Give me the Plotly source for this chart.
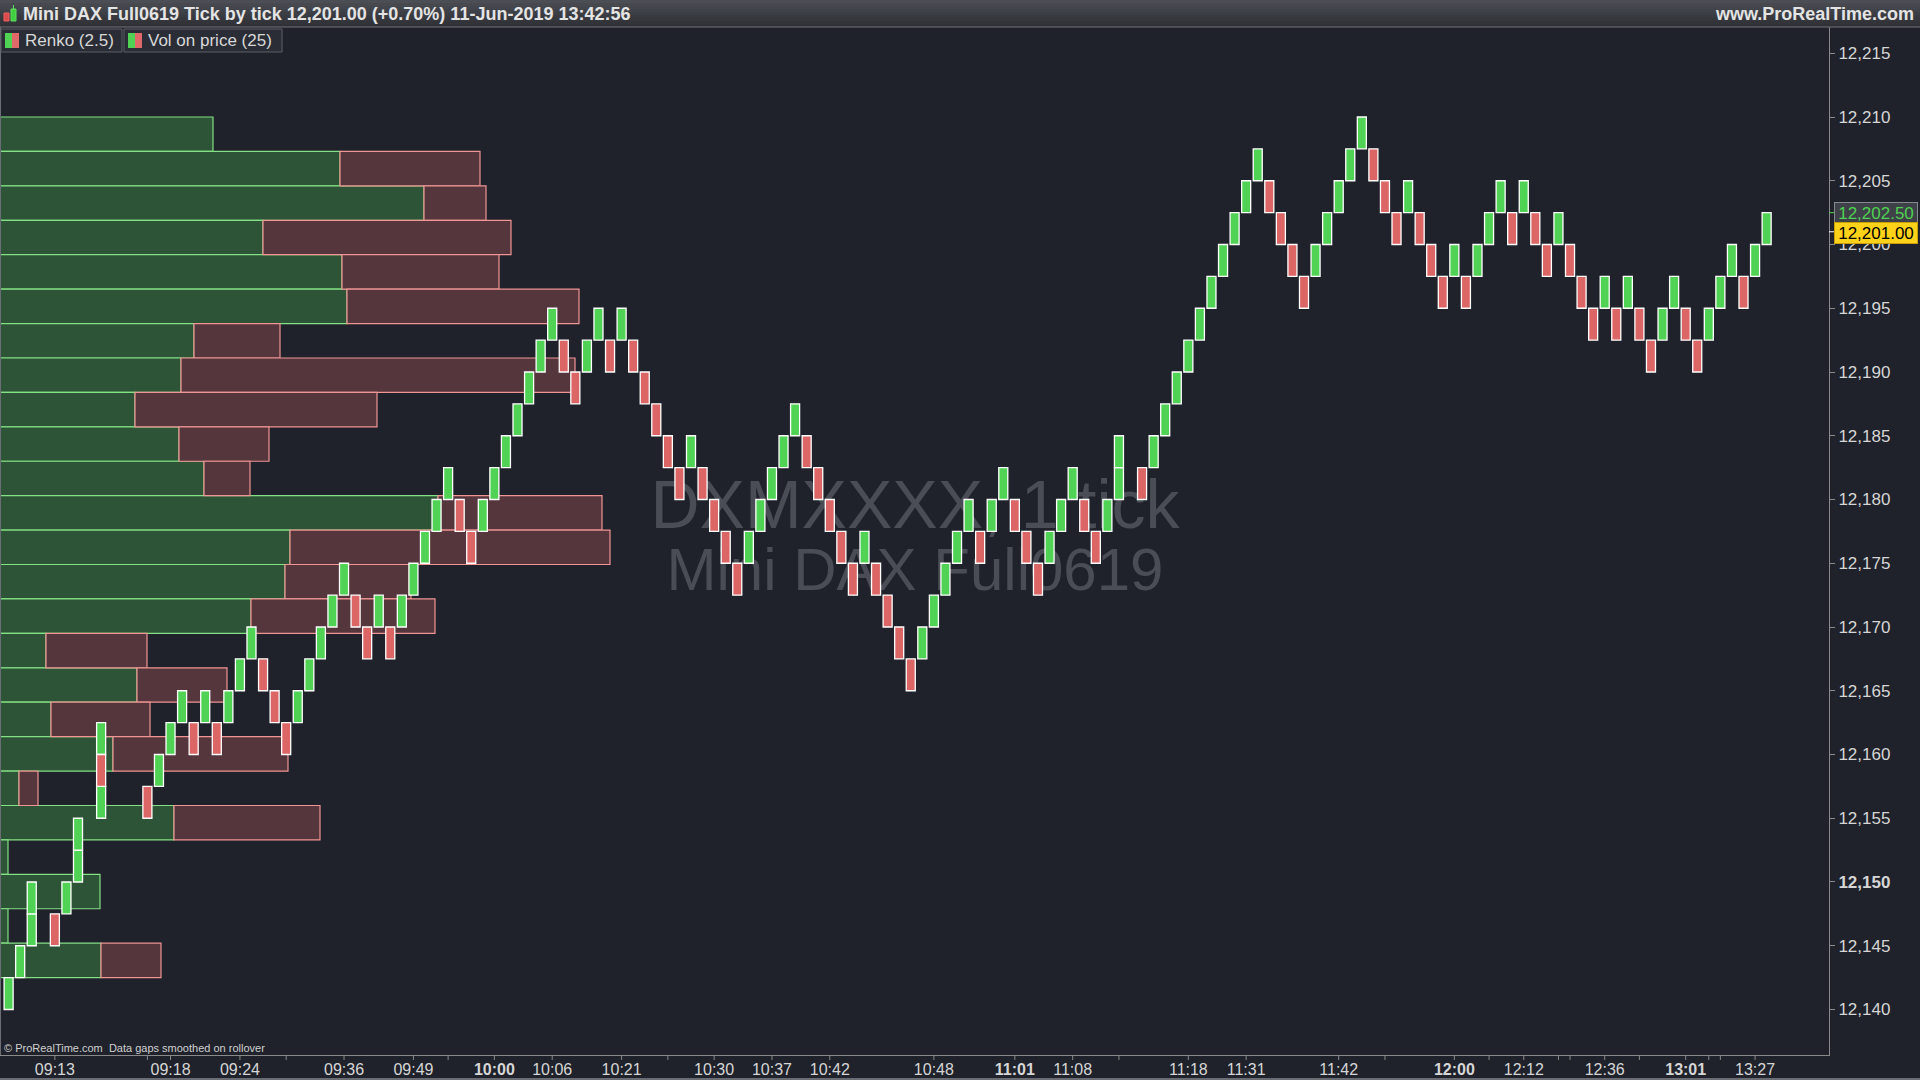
import plotly.graph_objects as go

# ---------------- DATA ----------------
# Renko bricks (box size 2.5): column index, brick low price, direction (1 = up/green, 0 = down/red)
renko_col = [0, 1, 2, 2, 4, 5, 6, 6, 8, 8, 8, 12, 13, 14, 15, 16, 17, 18, 19, 20,
             21, 22, 23, 24, 25, 26, 27, 28, 29, 30, 31, 32, 33, 34, 35, 36, 37, 38, 39, 40,
             41, 42, 43, 44, 45, 46, 47, 48, 49, 50, 51, 52, 53, 54, 55, 56, 57, 58, 59, 60,
             61, 62, 63, 64, 65, 66, 67, 68, 69, 70, 71, 72, 73, 74, 75, 76, 77, 78, 79, 80,
             81, 82, 83, 84, 85, 86, 87, 88, 89, 90, 91, 92, 93, 94, 95, 96, 96, 98, 99, 100,
             101, 102, 103, 104, 105, 106, 107, 108, 109, 110, 111, 112, 113, 114, 115, 116, 117, 118, 119, 120,
             121, 122, 123, 124, 125, 126, 127, 128, 129, 130, 131, 132, 133, 134, 135, 136, 137, 138, 139, 140,
             141, 142, 143, 144, 145, 146, 147, 148, 149, 150, 151, 152]
renko_low = [12140, 12142.5, 12145, 12147.5, 12145, 12147.5, 12150, 12152.5, 12155, 12157.5, 12160, 12155, 12157.5, 12160, 12162.5, 12160, 12162.5, 12160, 12162.5, 12165,
             12167.5, 12165, 12162.5, 12160, 12162.5, 12165, 12167.5, 12170, 12172.5, 12170, 12167.5, 12170, 12167.5, 12170, 12172.5, 12175, 12177.5, 12180, 12177.5, 12175,
             12177.5, 12180, 12182.5, 12185, 12187.5, 12190, 12192.5, 12190, 12187.5, 12190, 12192.5, 12190, 12192.5, 12190, 12187.5, 12185, 12182.5, 12180, 12182.5, 12180,
             12177.5, 12175, 12172.5, 12175, 12177.5, 12180, 12182.5, 12185, 12182.5, 12180, 12177.5, 12175, 12172.5, 12175, 12172.5, 12170, 12167.5, 12165, 12167.5, 12170,
             12172.5, 12175, 12177.5, 12175, 12177.5, 12180, 12177.5, 12175, 12172.5, 12175, 12177.5, 12180, 12177.5, 12175, 12177.5, 12180, 12182.5, 12180, 12182.5, 12185,
             12187.5, 12190, 12192.5, 12195, 12197.5, 12200, 12202.5, 12205, 12202.5, 12200, 12197.5, 12195, 12197.5, 12200, 12202.5, 12205, 12207.5, 12205, 12202.5, 12200,
             12202.5, 12200, 12197.5, 12195, 12197.5, 12195, 12197.5, 12200, 12202.5, 12200, 12202.5, 12200, 12197.5, 12200, 12197.5, 12195, 12192.5, 12195, 12192.5, 12195,
             12192.5, 12190, 12192.5, 12195, 12192.5, 12190, 12192.5, 12195, 12197.5, 12195, 12197.5, 12200]
renko_up = [1, 1, 1, 1, 0, 1, 1, 1, 1, 0, 1, 0, 1, 1, 1, 0, 1, 0, 1, 1,
            1, 0, 0, 0, 1, 1, 1, 1, 1, 0, 0, 1, 0, 1, 1, 1, 1, 1, 0, 0,
            1, 1, 1, 1, 1, 1, 1, 0, 0, 1, 1, 0, 1, 0, 0, 0, 0, 0, 1, 0,
            0, 0, 0, 1, 1, 1, 1, 1, 0, 0, 0, 0, 0, 1, 0, 0, 0, 0, 1, 1,
            1, 1, 1, 0, 1, 1, 0, 0, 0, 1, 1, 1, 0, 0, 1, 1, 1, 0, 1, 1,
            1, 1, 1, 1, 1, 1, 1, 1, 0, 0, 0, 0, 1, 1, 1, 1, 1, 0, 0, 0,
            1, 0, 0, 0, 1, 0, 1, 1, 1, 0, 1, 0, 0, 1, 0, 0, 0, 1, 0, 1,
            0, 0, 1, 1, 0, 0, 1, 1, 1, 0, 1, 1]
BRICK = 2.5

# Volume on price (25 levels, listed from top level to bottom level)
vol_top, vol_bottom, vol_levels = 12210.0, 12142.5, 25
vol_buy = [213, 340, 424, 263, 342, 347, 194, 181, 135, 179, 204, 438, 290, 285, 251,
           46, 137, 51, 113, 19, 174, 8, 100, 8, 101]
vol_sell = [0, 140, 62, 248, 157, 232, 86, 394, 242, 90, 46, 164, 320, 126, 184,
            101, 90, 99, 175, 19, 146, 0, 0, 0, 60]

# Time axis labels (column index -> time)
time_tick_col = [4, 14, 20, 29, 35, 42, 47, 53, 61, 66, 71, 80, 87, 92, 102, 107, 115, 125, 131, 138, 145, 151]
time_tick_lbl = ['09:13', '09:18', '09:24', '09:36', '09:49', '10:00', '10:06', '10:21', '10:30', '10:37', '10:42',
                 '10:48', '11:01', '11:08', '11:18', '11:31', '11:42', '12:00', '12:12', '12:36', '13:01', '13:27']
hour_lbl = ['10:00', '11:01', '12:00', '13:01']
minor_tick_col = [12, 24, 38, 57, 96, 119, 128, 134, 135, 141, 147, 148]

price_ticks = [12140, 12145, 12150, 12155, 12160, 12165, 12170, 12175, 12180,
               12185, 12190, 12195, 12200, 12205, 12210, 12215]
bold_price = 12150
last_price = 12201.00
renko_close = 12202.50

title_text = "Mini DAX Full0619 Tick by tick 12,201.00 (+0.70%) 11-Jun-2019 13:42:56"
watermark1 = "DXMXXXX, 1 tick"
watermark2 = "Mini DAX Full0619"

# ---------------- STYLE / LAYOUT ----------------
BG = '#1f222a'
FONT = 'Liberation Sans, Arial, sans-serif'
W, H = 1920, 1080
M_L, M_R, M_T, M_B = 0, 91, 27, 25
PW, PH = W - M_L - M_R, H - M_T - M_B


def PX(x):
    return (x - M_L) / PW


def PY(y):
    return (H - M_B - y) / PH


fig = go.Figure()

# volume profile (main x axis, behind)
h = (vol_top - vol_bottom) / vol_levels
centers = [vol_top - (i + 0.5) * h for i in range(vol_levels)]
fig.add_trace(go.Bar(y=centers, x=vol_buy, base=0, orientation='h', width=h,
                     marker=dict(color='#2d5437', line=dict(color='#84e084', width=1.2)),
                     hoverinfo='skip'))
s_y = [c for c, s in zip(centers, vol_sell) if s > 0]
s_x = [s for s in vol_sell if s > 0]
s_b = [b for b, s in zip(vol_buy, vol_sell) if s > 0]
fig.add_trace(go.Bar(y=s_y, x=s_x, base=s_b, orientation='h', width=h,
                     marker=dict(color='#55363c', line=dict(color='#f09494', width=1.2)),
                     hoverinfo='skip'))

# renko bricks (overlaying x2 axis, in front)
for flag, col in ((1, '#50d254'), (0, '#dc6565')):
    xs = [c for c, u in zip(renko_col, renko_up) if u == flag]
    lows = [l for l, u in zip(renko_low, renko_up) if u == flag]
    fig.add_trace(go.Bar(x=xs, y=[BRICK] * len(xs), base=lows, width=0.78,
                         marker=dict(color=col, line=dict(color='#ffffff', width=1.3)),
                         xaxis='x2', yaxis='y', hoverinfo='skip'))

tickvals = time_tick_col
ticktext = [('<b>%s</b>' % t if t in hour_lbl else t) for t in time_tick_lbl]
ptext = [('<b>{:,}</b>'.format(p) if p == bold_price else '{:,}'.format(p)) for p in price_ticks]

fig.update_layout(
    width=W, height=H, margin=dict(l=M_L, r=M_R, t=M_T, b=M_B, pad=0, autoexpand=False),
    paper_bgcolor=BG, plot_bgcolor=BG, showlegend=False, barmode='overlay',
    font=dict(family=FONT),
    xaxis=dict(range=[0, PW], visible=False, fixedrange=True, automargin=False),
    xaxis2=dict(overlaying='x', anchor='y', side='bottom', automargin=False,
                range=[-0.744, -0.744 + PW / 11.566],
                tickmode='array', tickvals=tickvals, ticktext=ticktext,
                ticks='', showline=True, linecolor='#8a8a8a', linewidth=1,
                showgrid=False, zeroline=False,
                tickfont=dict(family=FONT, size=16, color='#d6d6d6')),
    yaxis=dict(side='right', range=[12136.43, 12217.06], automargin=False,
               tickmode='array', tickvals=price_ticks, ticktext=ptext,
               ticks='outside', ticklen=5, tickcolor='#8a8a8a', tickwidth=1,
               showline=True, linecolor='#8a8a8a', linewidth=1,
               showgrid=False, zeroline=False,
               tickfont=dict(family=FONT, size=17, color='#d6d6d6')),
)

shapes = []
ann = []

# time-axis tick marks (labelled and unlabelled)
for c in time_tick_col + minor_tick_col:
    shapes.append(dict(type='line', xref='x2', yref='paper', x0=c, x1=c, y0=PY(1055), y1=PY(1060),
                       line=dict(color='#8a8a8a', width=1), layer='above'))

# watermark behind bricks
shapes.append(dict(type='rect', xref='paper', yref='paper', x0=PX(600), x1=PX(1230), y0=PY(533), y1=PY(463),
                   line=dict(width=0), fillcolor='rgba(0,0,0,0)', layer='below',
                   label=dict(text=watermark1, textposition='middle center',
                              font=dict(family=FONT, size=68, color='#4a4d55'))))
shapes.append(dict(type='rect', xref='paper', yref='paper', x0=PX(600), x1=PX(1230), y0=PY(598), y1=PY(528),
                   line=dict(width=0), fillcolor='rgba(0,0,0,0)', layer='below',
                   label=dict(text=watermark2, textposition='middle center',
                              font=dict(family=FONT, size=60, color='#4a4d55'))))

# title bar with gradient
grad = ['#4b4e54', '#47494f', '#43464c', '#3f4248', '#3b3e44', '#383a40', '#35373d', '#32343a', '#2f3137']
step = 27 / len(grad)
for i, c in enumerate(grad):
    shapes.append(dict(type='rect', xref='paper', yref='paper', x0=PX(0), x1=PX(W),
                       y0=PY(step * (i + 1) + 0.3), y1=PY(step * i), line=dict(width=0), fillcolor=c, layer='above'))
shapes.append(dict(type='line', xref='paper', yref='paper', x0=PX(0), x1=PX(W), y0=PY(27), y1=PY(27),
                   line=dict(color='#70737a', width=1), layer='above'))
# bottom border
shapes.append(dict(type='line', xref='paper', yref='paper', x0=PX(0), x1=PX(W), y0=PY(1079), y1=PY(1079),
                   line=dict(color='#6a6d73', width=2), layer='above'))
# left border
shapes.append(dict(type='line', xref='paper', yref='paper', x0=PX(0.5), x1=PX(0.5), y0=PY(27), y1=PY(1055),
                   line=dict(color='#6a6d73', width=1), layer='above'))

# app icon (tiny candles)
shapes.append(dict(type='rect', xref='paper', yref='paper', x0=PX(4), x1=PX(9), y0=PY(21), y1=PY(13),
                   line=dict(color='#f06060', width=1), fillcolor='#d94a4a', layer='above'))
shapes.append(dict(type='rect', xref='paper', yref='paper', x0=PX(11), x1=PX(16), y0=PY(21), y1=PY(9),
                   line=dict(color='#60e060', width=1), fillcolor='#3fcf3f', layer='above'))
shapes.append(dict(type='line', xref='paper', yref='paper', x0=PX(13.5), x1=PX(13.5), y0=PY(9), y1=PY(5),
                   line=dict(color='#60e060', width=1), layer='above'))

ann.append(dict(xref='paper', yref='paper', x=PX(21), y=PY(13.5), xanchor='left', yanchor='middle',
                text=title_text, showarrow=False,
                font=dict(family=FONT, size=18, color='#e4e4e4', weight='bold')))
ann.append(dict(xref='paper', yref='paper', x=PX(1916), y=PY(13.5), xanchor='right', yanchor='middle',
                text='www.ProRealTime.com', showarrow=False,
                font=dict(family=FONT, size=18, color='#e4e4e4', weight='bold')))

# indicator legend boxes
for (x0, x1, label) in ((1, 122, 'Renko (2.5)'), (124, 282, 'Vol on price (25)')):
    shapes.append(dict(type='rect', xref='paper', yref='paper', x0=PX(x0), x1=PX(x1), y0=PY(52), y1=PY(29),
                       line=dict(color='#5c5f66', width=1), fillcolor='#2a2d35', layer='above'))
    shapes.append(dict(type='rect', xref='paper', yref='paper', x0=PX(x0 + 4), x1=PX(x0 + 11), y0=PY(48), y1=PY(33),
                       line=dict(width=0), fillcolor='#50d254', layer='above'))
    shapes.append(dict(type='rect', xref='paper', yref='paper', x0=PX(x0 + 11), x1=PX(x0 + 18), y0=PY(48), y1=PY(33),
                       line=dict(width=0), fillcolor='#e06868', layer='above'))
    ann.append(dict(xref='paper', yref='paper', x=PX(x0 + 22), y=PY(40.5), xanchor='left', yanchor='middle',
                    text=label, showarrow=False, font=dict(family=FONT, size=17, color='#d8d8d8')))

# copyright
ann.append(dict(xref='paper', yref='paper', x=PX(2), y=PY(1048), xanchor='left', yanchor='middle',
                text='© ProRealTime.com  Data gaps smoothed on rollover', showarrow=False,
                font=dict(family='Liberation Sans Narrow, ' + FONT, size=11, color='#d0d0d0')))

# price tags
shapes.append(dict(type='line', xref='paper', yref='y', x0=PX(1829), x1=PX(1835), y0=renko_close, y1=renko_close,
                   line=dict(color='#50d254', width=1), layer='above'))
shapes.append(dict(type='line', xref='paper', yref='y', x0=PX(1829), x1=PX(1835), y0=last_price, y1=last_price,
                   line=dict(color='#ffffff', width=1), layer='above'))
ann.append(dict(xref='paper', yref='y', x=PX(1834), y=renko_close, xanchor='left', yanchor='middle',
                text='{:,.2f}'.format(renko_close), showarrow=False, width=80, height=18, align='center',
                bgcolor='#3e4148', bordercolor='#85888e', borderwidth=1, borderpad=1,
                font=dict(family=FONT, size=17, color='#4fd152')))
ann.append(dict(xref='paper', yref='y', x=PX(1834), y=last_price, yshift=-1.5, xanchor='left', yanchor='middle',
                text='{:,.2f}'.format(last_price), showarrow=False, width=80, height=18, align='center',
                bgcolor='#ffd21a', bordercolor='#c9a000', borderwidth=1, borderpad=1,
                font=dict(family=FONT, size=17, color='#000000')))

fig.update_layout(shapes=shapes, annotations=ann)

fig.write_html("out.html", config={'displayModeBar': False},
               post_script="document.body.style.margin='0';document.body.style.overflow='hidden';")
